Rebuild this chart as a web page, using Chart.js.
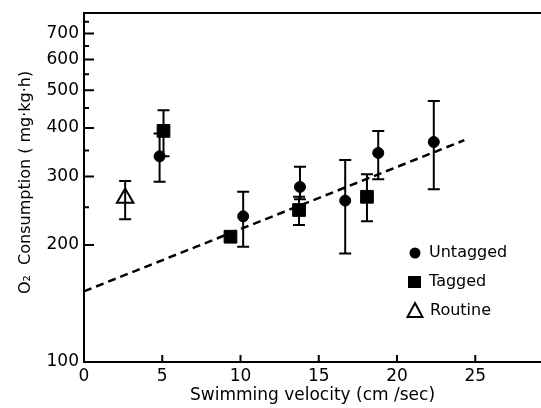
<!DOCTYPE html>
<html>
<head>
<meta charset="utf-8">
<script src="https://cdn.jsdelivr.net/npm/chart.js@4.4.1/dist/chart.umd.min.js"></script>
<style>
  html, body { margin: 0; padding: 0; background: #fff; }
  #graph { display: block; }
</style>
</head>
<body>
<canvas id="graph" width="541" height="408"></canvas>
<script>
// values
const untaggedX  = [4.83, 10.17, 13.8, 16.69, 18.8, 22.35];
const untaggedY  = [338, 237, 282, 260, 345, 368];
const untaggedLo = [291, 198, 262, 190, 295, 278];
const untaggedHi = [387, 274, 318, 331, 393, 469];

const taggedX  = [5.08, 9.36, 13.74, 18.08];
const taggedY  = [393, 210, 246, 266];
const taggedLo = [338, null, 225, 230];
const taggedHi = [444, null, 266, 304];

const routineX  = [2.63];
const routineY  = [264];
const routineLo = [233];
const routineHi = [292];

const fitX = [0, 24.3];
const fitY = [152, 372];

const xTicks = [0, 5, 10, 15, 20, 25];
const yTicks = [100, 200, 300, 400, 500, 600, 700];
const yMinor = [250, 350, 450, 550, 650, 750];

const legendItems = ['Untagged', 'Tagged', 'Routine'];

Chart.defaults.font.family = "'DejaVu Sans', sans-serif";
Chart.defaults.color = '#000';

function pts(xs, ys) {
  return xs.map((x, i) => ({ x: x, y: ys[i] }));
}

const canva = document.getElementById('graph');

// ticks inward, top frame line, error bars and the legend box
const extras = {
  id: 'extras',
  afterDatasetsDraw(chart) {
    const ctx = chart.ctx;
    const a = chart.chartArea;
    const xs = chart.scales.x, ys = chart.scales.y;
    ctx.save();
    ctx.strokeStyle = '#000';
    ctx.fillStyle = '#000';
    ctx.lineWidth = 2;

    ctx.beginPath();
    ctx.moveTo(a.left - 1, a.top);
    ctx.lineTo(chart.width, a.top);
    ctx.stroke();

    ctx.beginPath();
    xTicks.forEach(v => {
      if (v === 0) return;
      const px = xs.getPixelForValue(v);
      ctx.moveTo(px, a.bottom);
      ctx.lineTo(px, a.bottom - 7);
    });
    yTicks.forEach(v => {
      if (v === 100) return;
      const py = ys.getPixelForValue(v);
      ctx.moveTo(a.left, py);
      ctx.lineTo(a.left + 10, py);
    });
    yMinor.forEach(v => {
      const py = ys.getPixelForValue(v);
      ctx.moveTo(a.left, py);
      ctx.lineTo(a.left + 5, py);
    });
    ctx.stroke();

    // error bars
    chart.data.datasets.forEach(ds => {
      if (!ds.lo) return;
      ds.data.forEach((p, j) => {
        if (ds.lo[j] == null) return;
        const px = xs.getPixelForValue(p.x);
        const y1 = ys.getPixelForValue(ds.lo[j]);
        const y2 = ys.getPixelForValue(ds.hi[j]);
        ctx.beginPath();
        ctx.moveTo(px, y1); ctx.lineTo(px, y2);
        ctx.moveTo(px - 6, y1); ctx.lineTo(px + 6, y1);
        ctx.moveTo(px - 6, y2); ctx.lineTo(px + 6, y2);
        ctx.stroke();
      });
    });

    // legend
    ctx.font = "16px 'DejaVu Sans'";
    ctx.textBaseline = 'middle';
    ctx.textAlign = 'left';
    const lx = 415, ly = [253, 282, 311];
    ctx.beginPath();
    ctx.arc(lx, ly[0], 5.5, 0, Math.PI * 2);
    ctx.fill();
    ctx.fillRect(lx - 7, ly[1] - 6, 13, 12);
    ctx.beginPath();
    ctx.moveTo(lx, ly[2] - 8);
    ctx.lineTo(lx + 7.5, ly[2] + 6);
    ctx.lineTo(lx - 7.5, ly[2] + 6);
    ctx.closePath();
    ctx.stroke();
    ctx.fillText(legendItems[0], 429, ly[0]);
    ctx.fillText(legendItems[1], 429, ly[1]);
    ctx.fillText(legendItems[2], 430, ly[2]);
    ctx.restore();
  }
};

function noPad(s) {
  s.paddingLeft = 0;
  s.paddingRight = 0;
  s.paddingTop = 0;
  s.paddingBottom = 0;
}

const data = {
  datasets: [
    {
      label: 'fit',
      data: pts(fitX, fitY),
      showLine: true,
      borderColor: '#000',
      borderWidth: 2.5,
      borderDash: [8, 5],
      pointRadius: 0,
      order: 3
    },
    {
      label: legendItems[0],
      data: pts(untaggedX, untaggedY),
      lo: untaggedLo, hi: untaggedHi,
      pointStyle: 'circle',
      pointRadius: 5.5,
      backgroundColor: '#000',
      borderColor: '#000',
      borderWidth: 1
    },
    {
      label: legendItems[1],
      data: pts(taggedX, taggedY),
      lo: taggedLo, hi: taggedHi,
      pointStyle: 'rect',
      pointRadius: 9,
      backgroundColor: '#000',
      borderColor: '#000',
      borderWidth: 1
    },
    {
      label: legendItems[2],
      data: pts(routineX, routineY),
      lo: routineLo, hi: routineHi,
      pointStyle: 'triangle',
      pointRadius: 9.5,
      backgroundColor: '#fff',
      borderColor: '#000',
      borderWidth: 2
    }
  ]
};

const config = {
  type: 'scatter',
  data,
  options: {
    responsive: false,
    animation: false,
    devicePixelRatio: 1,
    layout: { autoPadding: false, padding: { top: 13, right: 0, left: 0, bottom: 0 } },
    plugins: { legend: { display: false }, tooltip: { enabled: false } },
    scales: {
      x: {
        type: 'linear',
        min: 0,
        max: 29.2,
        afterBuildTicks: s => { s.ticks = xTicks.map(v => ({ value: v })); },
        afterFit: s => { s.height = 46; noPad(s); },
        grid: { display: false, drawTicks: false },
        border: { display: true, color: '#000', width: 2 },
        ticks: { font: { size: 17 }, padding: 4, maxRotation: 0 },
        title: {
          display: true,
          text: 'Swimming velocity (cm /sec)',
          font: { size: 17 },
          padding: { top: 0, bottom: 2 }
        }
      },
      y: {
        type: 'logarithmic',
        min: 100,
        max: 790,
        afterBuildTicks: s => { s.ticks = yTicks.concat(yMinor).sort((p, q) => p - q).map(v => ({ value: v })); },
        afterFit: s => { s.width = 84; noPad(s); },
        grid: { display: false, drawTicks: false },
        border: { display: true, color: '#000', width: 2 },
        ticks: {
          font: { size: 17 },
          padding: 5,
          autoSkip: false,
          callback: v => yTicks.includes(v) ? String(v) : ''
        },
        title: {
          display: true,
          text: '  O\u2082  Consumption ( mg\u00b7kg\u00b7h)',
          font: { size: 16 },
          padding: { top: 16, bottom: 0 }
        }
      }
    }
  },
  plugins: [extras]
};

var chart = new Chart(canva, config);
</script>
</body>
</html>
